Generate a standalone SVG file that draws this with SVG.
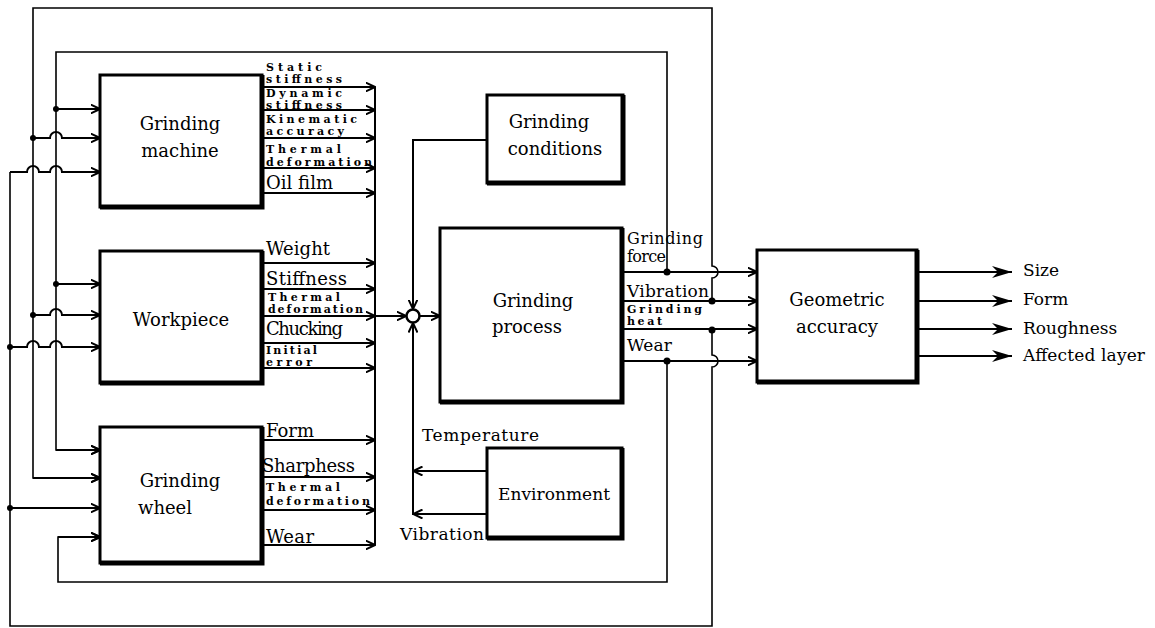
<svg xmlns="http://www.w3.org/2000/svg" width="1155" height="628" viewBox="0 0 1155 628">
<style>
.box{fill:#fff;stroke:#000;stroke-width:3}
.sh{fill:none;stroke:#000;stroke-width:5}
.w{fill:none;stroke:#000;stroke-width:2}
.th{fill:none;stroke:#000;stroke-width:1.6}
.dot{fill:#000}
.t{font-family:"DejaVu Serif",serif;font-size:18px;fill:#000}
.m{font-family:"DejaVu Serif",serif;font-size:17px;fill:#000}
.m2{font-family:"DejaVu Serif",serif;font-size:16px;fill:#000}
.s{font-family:"DejaVu Serif",serif;font-size:11px;font-weight:bold;fill:#000}
</style>
<defs>
<marker id="ch" viewBox="0 0 10 10" refX="9.5" refY="5" markerWidth="10" markerHeight="10" markerUnits="userSpaceOnUse" orient="auto">
<path d="M0,0.5 L9.5,5 L0,9.5" fill="none" stroke="#000" stroke-width="2"/>
</marker>
<marker id="fa" viewBox="0 0 20 12" refX="20" refY="6" markerWidth="20" markerHeight="12" markerUnits="userSpaceOnUse" orient="auto">
<path d="M0,0 L20,6 L0,12 L6,6 z" fill="#000"/>
</marker>
</defs>

<g id="connectors">
<path class="th" d="M712,301 L712,278 A6,6 0 0 0 712,266 L712,8 L33,8 L33,478 L100,478" marker-end="url(#ch)"/>
<path class="th" d="M712,330 L712,355 A6,6 0 0 1 712,367 L712,626 L10,626 L10,172" />
<path class="w" d="M10,172 L27,172 A6,6 0 0 1 39,172 L50,172 A6,6 0 0 1 62,172 L100,172" marker-end="url(#ch)"/>
<path class="th" d="M667,272 L667,52 L56,52 L56,450 L100,450" marker-end="url(#ch)"/>
<path class="th" d="M667,361 L667,582 L58,582 L58,537 L100,537" marker-end="url(#ch)"/>
<path class="w" d="M56,109 L100,109" marker-end="url(#ch)"/>
<path class="w" d="M33,138 L50,138 A6,6 0 0 1 62,138 L100,138" marker-end="url(#ch)"/>
<path class="w" d="M56,284 L100,284" marker-end="url(#ch)"/>
<path class="w" d="M33,315 L50,315 A6,6 0 0 1 62,315 L100,315" marker-end="url(#ch)"/>
<path class="w" d="M10,347 L27,347 A6,6 0 0 1 39,347 L50,347 A6,6 0 0 1 62,347 L100,347" marker-end="url(#ch)"/>
<path class="w" d="M10,508 L100,508" marker-end="url(#ch)"/>
<path class="w" d="M33,478 L100,478" marker-end="url(#ch)"/>
<path class="w" d="M56,450 L100,450" marker-end="url(#ch)"/>
<path class="w" d="M58,537 L100,537" marker-end="url(#ch)"/>
<circle class="dot" cx="56" cy="109" r="3"/>
<circle class="dot" cx="33" cy="138" r="3"/>
<circle class="dot" cx="56" cy="284" r="3"/>
<circle class="dot" cx="33" cy="315" r="3"/>
<circle class="dot" cx="10" cy="347" r="3"/>
<circle class="dot" cx="10" cy="508" r="3"/>
<path class="w" d="M375,87 L375,545"/>
<path class="w" d="M262,87 L375,87" marker-end="url(#ch)"/>
<path class="w" d="M262,110 L375,110" marker-end="url(#ch)"/>
<path class="w" d="M262,138 L375,138" marker-end="url(#ch)"/>
<path class="w" d="M262,168 L375,168" marker-end="url(#ch)"/>
<path class="w" d="M262,193 L375,193" marker-end="url(#ch)"/>
<path class="w" d="M262,263 L375,263" marker-end="url(#ch)"/>
<path class="w" d="M262,289 L375,289" marker-end="url(#ch)"/>
<path class="w" d="M262,316 L375,316" marker-end="url(#ch)"/>
<path class="w" d="M262,343 L375,343" marker-end="url(#ch)"/>
<path class="w" d="M262,368 L375,368" marker-end="url(#ch)"/>
<path class="w" d="M262,440 L375,440" marker-end="url(#ch)"/>
<path class="w" d="M262,477 L375,477" marker-end="url(#ch)"/>
<path class="w" d="M262,510 L375,510" marker-end="url(#ch)"/>
<path class="w" d="M262,545 L375,545" marker-end="url(#ch)"/>
<path class="w" d="M375,316 L406,316" marker-end="url(#ch)"/>
<circle cx="413" cy="316" r="6.5" fill="#fff" stroke="#000" stroke-width="2.5"/>
<path class="w" d="M487,140 L413,140 L413,309" marker-end="url(#ch)"/>
<path class="w" d="M413,515 L413,323" marker-end="url(#ch)"/>
<path class="w" d="M420,316 L440,316" marker-end="url(#ch)"/>
<path class="w" d="M487,471 L413,471" marker-end="url(#ch)"/>
<path class="w" d="M487,514 L413,514" marker-end="url(#ch)"/>
<path class="w" d="M622,272 L757,272" marker-end="url(#ch)"/>
<path class="w" d="M622,301 L757,301" marker-end="url(#ch)"/>
<path class="w" d="M622,329 L757,329" marker-end="url(#ch)"/>
<path class="w" d="M622,361 L757,361" marker-end="url(#ch)"/>
<circle class="dot" cx="667" cy="272" r="3.5"/>
<circle class="dot" cx="712" cy="301" r="3.5"/>
<circle class="dot" cx="712" cy="330" r="3.5"/>
<circle class="dot" cx="667" cy="361" r="3.5"/>
<path class="w" d="M917,272 L1012,272" marker-end="url(#fa)"/>
<path class="w" d="M917,301 L1012,301" marker-end="url(#fa)"/>
<path class="w" d="M917,329 L1012,329" marker-end="url(#fa)"/>
<path class="w" d="M917,356 L1012,356" marker-end="url(#fa)"/>
</g>

<g id="machine">
<rect class="box" x="100" y="75" width="162" height="132"/>
<path class="sh" d="M262,75 L262,207 L100,207"/>
<text class="t" x="180" y="130" text-anchor="middle">Grinding</text>
<text class="t" x="180" y="157" text-anchor="middle">machine</text>
</g>
<g id="machine-labels">
<text class="s" x="266" y="71" textLength="56" lengthAdjust="spacing">Static</text>
<text class="s" x="266" y="83" textLength="76" lengthAdjust="spacing">stiffness</text>
<text class="s" x="266" y="97" textLength="76" lengthAdjust="spacing">Dynamic</text>
<text class="s" x="266" y="109" textLength="76" lengthAdjust="spacing">stiffness</text>
<text class="s" x="266" y="123" textLength="91" lengthAdjust="spacing">Kinematic</text>
<text class="s" x="266" y="135" textLength="78" lengthAdjust="spacing">accuracy</text>
<text class="s" x="266" y="153" textLength="75" lengthAdjust="spacing">Thermal</text>
<text class="s" x="266" y="166" textLength="106" lengthAdjust="spacing">deformation</text>
<text class="t" x="266" y="189" textLength="67" lengthAdjust="spacing">Oil film</text>
</g>

<g id="workpiece">
<rect class="box" x="100" y="251" width="162" height="132"/>
<path class="sh" d="M262,251 L262,383 L100,383"/>
<text class="t" x="181" y="326" text-anchor="middle">Workpiece</text>
</g>
<g id="workpiece-labels">
<text class="t" x="266" y="255" textLength="64" lengthAdjust="spacing">Weight</text>
<text class="t" x="266" y="285" textLength="81" lengthAdjust="spacing">Stiffness</text>
<text class="s" x="268" y="301" textLength="72" lengthAdjust="spacing">Thermal</text>
<text class="s" x="268" y="313" textLength="95" lengthAdjust="spacing">deformation</text>
<text class="t" x="266" y="335" textLength="77" lengthAdjust="spacing">Chucking</text>
<text class="s" x="266" y="354" textLength="51" lengthAdjust="spacing">Initial</text>
<text class="s" x="266" y="366" textLength="46" lengthAdjust="spacing">error</text>
</g>

<g id="wheel">
<rect class="box" x="100" y="427" width="162" height="136"/>
<path class="sh" d="M262,427 L262,563 L100,563"/>
<text class="t" x="180" y="487" text-anchor="middle">Grinding</text>
<text class="t" x="165" y="514" text-anchor="middle">wheel</text>
</g>
<g id="wheel-labels">
<text class="t" x="266" y="437" textLength="48" lengthAdjust="spacing">Form</text>
<text class="t" x="262" y="472" textLength="93" lengthAdjust="spacing">Sharphess</text>
<text class="s" x="266" y="491" textLength="74" lengthAdjust="spacing">Thermal</text>
<text class="s" x="266" y="505" textLength="104" lengthAdjust="spacing">deformation</text>
<text class="t" x="266" y="543" textLength="48" lengthAdjust="spacing">Wear</text>
</g>

<g id="conditions">
<rect class="box" x="487" y="95" width="136" height="88"/>
<path class="sh" d="M623,95 L623,183 L487,183"/>
<text class="t" x="549" y="128" text-anchor="middle">Grinding</text>
<text class="t" x="555" y="155" text-anchor="middle">conditions</text>
</g>

<g id="process">
<rect class="box" x="440" y="228" width="182" height="174"/>
<path class="sh" d="M622,228 L622,402 L440,402"/>
<text class="t" x="533" y="307" text-anchor="middle">Grinding</text>
<text class="t" x="527" y="333" text-anchor="middle">process</text>
</g>
<g id="process-labels">
<text class="m2" x="627" y="244" textLength="76" lengthAdjust="spacing">Grinding</text>
<text class="m2" x="627" y="262" textLength="39" lengthAdjust="spacing">force</text>
<text class="m" x="627" y="297" textLength="82" lengthAdjust="spacing">Vibration</text>
<text class="s" x="627" y="313" textLength="75" lengthAdjust="spacing">Grinding</text>
<text class="s" x="627" y="325" textLength="35" lengthAdjust="spacing">heat</text>
<text class="m" x="627" y="351" textLength="45" lengthAdjust="spacing">Wear</text>
</g>

<g id="environment">
<rect class="box" x="487" y="448" width="135" height="90"/>
<path class="sh" d="M622,448 L622,538 L487,538"/>
<text class="m" x="554" y="500" text-anchor="middle" textLength="112" lengthAdjust="spacing">Environment</text>
</g>
<g id="environment-labels">
<text class="m" x="422" y="441" textLength="117" lengthAdjust="spacing">Temperature</text>
<text class="m" x="400" y="540" textLength="84" lengthAdjust="spacing">Vibration</text>
</g>

<g id="geometric">
<rect class="box" x="757" y="250" width="160" height="132"/>
<path class="sh" d="M917,250 L917,382 L757,382"/>
<text class="t" x="837" y="306" text-anchor="middle">Geometric</text>
<text class="t" x="837" y="333" text-anchor="middle">accuracy</text>
</g>
<g id="output-labels">
<text class="m" x="1023" y="276">Size</text>
<text class="m" x="1023" y="305">Form</text>
<text class="m" x="1023" y="334">Roughness</text>
<text class="m" x="1023" y="361" textLength="122" lengthAdjust="spacing">Affected layer</text>
</g>
</svg>
